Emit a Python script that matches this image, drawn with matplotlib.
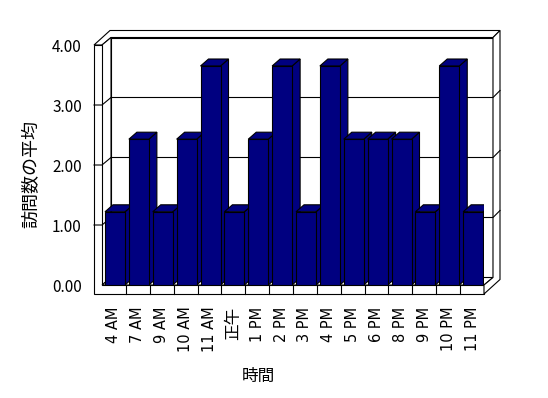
import matplotlib
matplotlib.use('Agg')
import matplotlib.pyplot as plt
from matplotlib.patches import Polygon

plt.rcParams['font.family'] = ['Noto Sans CJK JP', 'DejaVu Sans']

# data
hours = ['4 AM', '7 AM', '9 AM', '10 AM', '11 AM', '正午', '1 PM', '2 PM',
         '3 PM', '4 PM', '5 PM', '6 PM', '8 PM', '9 PM', '10 PM', '11 PM']
avg_visits = [1.22, 2.43, 1.22, 2.43, 3.65, 1.22, 2.43, 3.65,
              1.22, 3.65, 2.43, 2.43, 2.43, 1.22, 3.65, 1.22]
yticks = [0, 1, 2, 3, 4]

W, H = 548, 398
fig = plt.figure(figsize=(W / 100, H / 100), dpi=100)
fig.patch.set_facecolor('white')

# front plane of the chart box in pixels: x 102..484, y 285 (0) .. 45 (4)
left_px, right_px, bot_px, top_px = 102, 484, 285, 45
ax = fig.add_axes([left_px / W, 1 - bot_px / H,
                   (right_px - left_px) / W, (bot_px - top_px) / H])
n = len(hours)
ax.set_xlim(-0.5, n - 0.5)
ax.set_ylim(0, 4)
ax.set_facecolor('none')
for s in ax.spines.values():
    s.set_visible(False)

# pixel sizes in data units
SX = n / (right_px - left_px)
SY = 4 / (bot_px - top_px)
X0, X1, Y0, Y1 = -0.5, n - 0.5, 0, 4
dxw, dyw = 9 * SX, 7.5 * SY      # depth of walls
dxt, dyt = 7 * SX, 7 * SY        # back wall thickness
lwt = 8 * SX                     # left wall thickness
flt = 9 * SY                     # floor thickness
bdx, bdy = 8 * SX, 7 * SY        # bar depth
bw = 20 * SX
lk = dict(facecolor='white', edgecolor='black', linewidth=0.8, clip_on=False, zorder=1)


def poly(pts, **kw):
    ax.add_patch(Polygon(pts, closed=True, **kw))


# back wall
poly([(X0 + dxw, Y0 + dyw), (X1 + dxw, Y0 + dyw), (X1 + dxw, Y1 + dyw), (X0 + dxw, Y1 + dyw)], **lk)
# top of walls
poly([(X0 - lwt, Y1), (X0, Y1), (X0 + dxw, Y1 + dyw), (X1 + dxw, Y1 + dyw),
      (X1 + dxw + dxt, Y1 + dyw + dyt), (X0 - lwt + dxw + dxt, Y1 + dyw + dyt)], **lk)
# left wall inner face
poly([(X0, Y1), (X0 + dxw, Y1 + dyw), (X0 + dxw, Y0 + dyw), (X0, Y0)], **lk)
# left wall front + floor front
poly([(X0 - lwt, Y1), (X0, Y1), (X0, Y0), (X1, Y0), (X1, Y0 - flt), (X0 - lwt, Y0 - flt)], **lk)
# floor top
poly([(X0, Y0), (X1, Y0), (X1 + dxw, Y0 + dyw), (X0 + dxw, Y0 + dyw)], **lk)
# right end of floor and back wall
poly([(X1, Y0), (X1, Y0 - flt), (X1 + dxw + dxt, Y0 - flt + dyw + dyt),
      (X1 + dxw + dxt, Y1 + dyw + dyt), (X1 + dxw, Y1 + dyw), (X1 + dxw, Y0 + dyw)], **lk)

# gridlines around the walls
for v in yticks[1:-1]:
    ax.plot([X0 - lwt, X0, X0 + dxw, X1 + dxw, X1 + dxw + dxt],
            [v, v, v + dyw, v + dyw, v + dyw + dyt],
            color='black', lw=0.8, clip_on=False, zorder=1.5)
# category ticks on floor front
for i in range(n - 1):
    ax.plot([i + 0.5, i + 0.5], [Y0, Y0 - flt], color='black', lw=0.8,
            clip_on=False, zorder=1.5)

# bars
navy = '#000080'
xs = [i - 0.5 + 3 * SX for i in range(n)]
bars = ax.bar(xs, avg_visits, width=bw, align='edge', color=navy,
              edgecolor='black', linewidth=0.8)
for i, (b, x, v) in enumerate(zip(bars, xs, avg_visits)):
    z = 2 + i * 0.01
    b.set_zorder(z + 0.005)
    r = x + bw
    poly([(r, 0), (r + bdx, bdy), (r + bdx, v + bdy), (r, v)],
         facecolor=navy, edgecolor='black', linewidth=0.8, zorder=z)
    poly([(x, v), (r, v), (r + bdx, v + bdy), (x + bdx, v + bdy)],
         facecolor=navy, edgecolor='black', linewidth=0.8, zorder=z)

# ticks
ax.set_xticks(range(n))
ax.set_xticklabels(hours, rotation=90, fontsize=10.5,
                   family=['DejaVu Sans', 'Noto Sans CJK JP'])
for lab in ax.get_xticklabels():
    if lab.get_text() == '正午':
        lab.set_fontsize(12)
ax.set_yticks(yticks)
ax.set_yticklabels([f'{t:.2f}' for t in yticks], fontsize=11)
ax.tick_params(axis='x', length=0, pad=15.5)
ax.tick_params(axis='y', length=0, pad=14.5)

fig.text(31 / W, 1 - 174 / H, '訪問数の平均', rotation=90, ha='center', va='center', fontsize=13)
fig.text(258 / W, 1 - 376 / H, '時間', ha='center', va='center', fontsize=12)

fig.savefig('out.png', dpi=100, facecolor='white')
